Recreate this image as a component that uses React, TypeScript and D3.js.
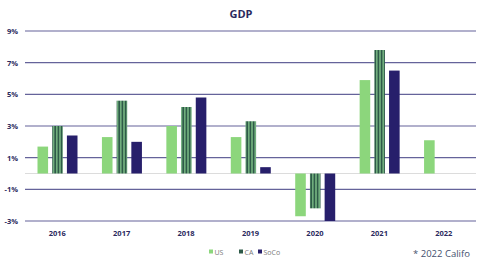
import { useEffect, useRef } from "react";
import * as d3 from "d3";

const years = ["2016", "2017", "2018", "2019", "2020", "2021", "2022"];
const seriesNames = ["US", "CA", "SoCo"];
const usValues = [1.7, 2.3, 3.0, 2.3, -2.7, 5.9, 2.1];
const caValues = [3.0, 4.6, 4.2, 3.3, -2.2, 7.8, null];
const socoValues = [2.4, 2.0, 4.8, 0.4, -3.0, 6.5, null];
const yTicks = [-3, -1, 1, 3, 5, 7, 9];

const W = 481;
const H = 259;
const textColor = "#2b2a5e";
const gridColor = "#65639a";

export default function App() {
  const svgRef = useRef<SVGSVGElement>(null);

  useEffect(() => {
    if (!svgRef.current) return;
    const svg = d3.select(svgRef.current);
    svg.selectAll("*").remove();

    // striped fill for the CA bars
    const defs = svg.append("defs");
    const pat = defs
      .append("pattern")
      .attr("id", "caStripes")
      .attr("patternUnits", "userSpaceOnUse")
      .attr("width", 3.2)
      .attr("height", 10);
    pat.append("rect").attr("width", 3.2).attr("height", 10).attr("fill", "#2e5a48");
    pat.append("rect").attr("x", 1.8).attr("width", 1.2).attr("height", 10).attr("fill", "#86c98e");

    const x0 = d3.scaleBand().domain(years).range([25, 476]);
    const x1 = d3.scaleBand().domain(seriesNames).range([12.5, 52.5]).paddingInner(0.28);
    const y = d3.scaleLinear().domain([-3, 9]).range([221, 31]);

    const fills: Record<string, string> = { US: "#8cd67c", CA: "url(#caStripes)", SoCo: "#271f6b" };
    const legendFills: Record<string, string> = { US: "#8cd67c", CA: "#2e5a48", SoCo: "#271f6b" };
    const valuesBySeries: Record<string, (number | null)[]> = {
      US: usValues,
      CA: caValues,
      SoCo: socoValues,
    };

    // title
    svg
      .append("text")
      .attr("x", 241)
      .attr("y", 18)
      .attr("text-anchor", "middle")
      .style("font-family", "'Open Sans', sans-serif")
      .style("font-weight", 700)
      .style("font-size", "11px")
      .style("fill", textColor)
      .text("GDP");

    // gridlines + y labels
    const grid = svg.append("g");
    yTicks.forEach((t) => {
      grid
        .append("line")
        .attr("x1", 25)
        .attr("x2", 476)
        .attr("y1", y(t))
        .attr("y2", y(t))
        .attr("stroke", gridColor)
        .attr("stroke-width", 1.2);
      grid
        .append("text")
        .attr("x", 18)
        .attr("y", y(t) + 3)
        .attr("text-anchor", "end")
        .style("font-family", "'Open Sans', sans-serif")
        .style("font-weight", 700)
        .style("font-size", "7.5px")
        .style("fill", textColor)
        .text(`${t}%`);
    });
    grid
      .append("line")
      .attr("x1", 25)
      .attr("x2", 476)
      .attr("y1", y(0))
      .attr("y2", y(0))
      .attr("stroke", "#dcdcdc")
      .attr("stroke-width", 1);

    // bars
    const bars = svg.append("g");
    seriesNames.forEach((s) => {
      valuesBySeries[s].forEach((v, i) => {
        if (v === null) return;
        bars
          .append("rect")
          .attr("x", (x0(years[i]) ?? 0) + (x1(s) ?? 0))
          .attr("y", y(Math.max(0, v)))
          .attr("width", x1.bandwidth())
          .attr("height", Math.abs(y(v) - y(0)))
          .attr("fill", fills[s]);
      });
    });

    // x labels
    years.forEach((yr) => {
      svg
        .append("text")
        .attr("x", (x0(yr) ?? 0) + x0.bandwidth() / 2)
        .attr("y", 236)
        .attr("text-anchor", "middle")
        .style("font-family", "'Open Sans', sans-serif")
        .style("font-weight", 700)
        .style("font-size", "7.5px")
        .style("fill", textColor)
        .text(yr);
    });

    // legend
    const legendX = [209, 239, 258];
    seriesNames.forEach((s, i) => {
      svg
        .append("rect")
        .attr("x", legendX[i])
        .attr("y", 249.5)
        .attr("width", 4)
        .attr("height", 4)
        .attr("fill", legendFills[s]);
      svg
        .append("text")
        .attr("x", legendX[i] + 5.5)
        .attr("y", 254.5)
        .style("font-family", "'Open Sans', sans-serif")
        .style("font-size", "7px")
        .style("fill", "#7a7a7a")
        .text(s);
    });

    // footnote, shown only as far as the reference shows it
    svg
      .append("text")
      .attr("x", 413)
      .attr("y", 257)
      .style("font-family", "'Open Sans', sans-serif")
      .style("font-size", "9.5px")
      .style("fill", "#44506e")
      .text("* 2022 Califo");
  }, []);

  return (
    <svg
      ref={svgRef}
      width={W}
      height={H}
      style={{ position: "absolute", left: 0, top: 0, background: "#ffffff" }}
    />
  );
}
